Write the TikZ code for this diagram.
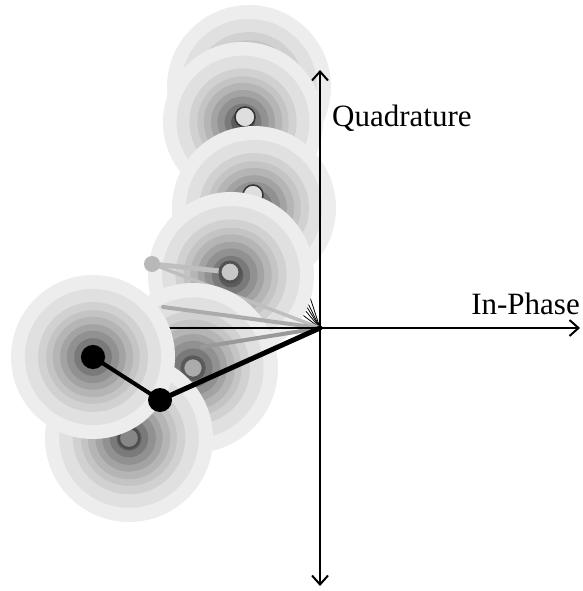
\documentclass[tikz,border=0pt]{standalone}
\usepackage{fontspec}
\setmainfont{Liberation Serif}
\usetikzlibrary{arrows.meta}

% noise cloud: concentric grey rings around a centre
\newcommand{\noiseblob}[2]{%
  \foreach \f/\g in {1/93,0.83/88,0.67/82,0.57/77,0.49/71,0.40/64,0.32/57,0.23/48,0.15/36}
    {\fill[white!\g!black] (#1) circle[radius=\f*#2pt];}}

\tikzset{
  axis/.style={line width=2pt, {Straight Barb[length=9pt,width=16pt]}-{Straight Barb[length=9pt,width=16pt]}},
  phasor/.style={line width=#1, line cap=round},
  tipdot/.style={circle, inner sep=0pt, minimum size=20pt, draw=#1, line width=1.5pt},
  lbl/.style={font=\fontsize{31}{36}\selectfont, inner sep=0pt}
}

\begin{document}
\begin{tikzpicture}[x=1pt,y=-1pt]
    \useasboundingbox (0,0) rectangle (582,591);

    % Punkte
    \coordinate (O) at (320,328);
    \coordinate (b1) at (249,87);
    \coordinate (b2) at (243,122);
    \coordinate (b3) at (254,208);
    \coordinate (b4) at (231,275);
    \coordinate (b5) at (193,368);
    \coordinate (b6) at (93,357);
    \coordinate (b7) at (129,438);
    \coordinate (a4) at (152,264);
    \coordinate (a5) at (202,347);
    \coordinate (a3) at (163,307);
    \coordinate (a6) at (160,400);

    % alte Wolken
    \noiseblob{b1}{82}
    \noiseblob{b2}{80}
    \node[tipdot=black!80, fill=black!13] (d2) at (245,117) {};
    \noiseblob{b3}{82}
    \node[tipdot=black!80, fill=black!13] (d3) at (253,195) {};

    % alte Zeiger
    \foreach \w in {108,116,122,130,143}
      \draw[black, line width=0.8pt] (O) -- ++(180-\w:-90);

    \noiseblob{b4}{83}
    \draw[phasor=3.5pt, black!25] (O) -- (a4);
    \draw[phasor=5pt, black!25] (a4) -- (230,272);
    \fill[black!28] (a4) circle[radius=8pt];
    \node[tipdot=black!68, fill=black!22, line width=3pt] (d4) at (230,272) {};

    \noiseblob{b5}{85}
    \draw[phasor=4pt, black!33] (O) -- (a3);
    \draw[phasor=4pt, black!40] (O) -- (a5);
    \node[tipdot=black!65, fill=black!33, line width=2.5pt] (d5) at (193,368) {};

    % Achsen
    \coordinate (top) at (320,70);
    \coordinate (bot) at (320,586);
    \coordinate (right) at (580,328);
    \coordinate (left) at (62,328);
    \draw[axis] (bot) -- (top);
    \draw[line width=2pt, -{Straight Barb[length=9pt,width=16pt]}] (left) -- (right);

    % neue Wolken
    \noiseblob{b7}{84}
    \node[tipdot=black!70, fill=black!47, line width=2pt] (d7) at (b7) {};
    \noiseblob{b6}{82}

    % aktueller Zeiger
    \draw[phasor=5pt, black] (O) -- (a6);
    \draw[phasor=4pt, black] (a6) -- (b6);
    \node[circle, fill=black, inner sep=0pt, minimum size=24pt] (d6) at (b6) {};
    \node[circle, fill=black, inner sep=0pt, minimum size=24pt] (d6a) at (a6) {};

    % Beschriftung
    \node[lbl, anchor=base west] (qlab) at (332,127) {Quadrature};
    \node[lbl, anchor=base east] (ilab) at (580,314) {In-Phase};
\end{tikzpicture}
\end{document}
